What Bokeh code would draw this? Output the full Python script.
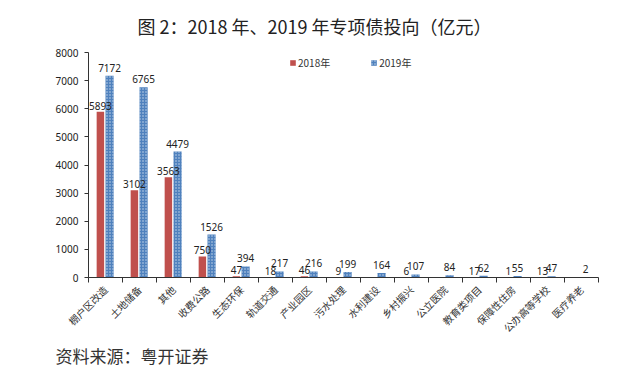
import math
from bokeh.plotting import figure
from bokeh.models import ColumnDataSource, FixedTicker, Title, Legend, LegendItem, Range1d
from bokeh.core.properties import value
from bokeh.embed import file_html
from bokeh.resources import INLINE

categories = ["棚户区改造", "土地储备", "其他", "收费公路", "生态环保", "轨道交通", "产业园区",
              "污水处理", "水利建设", "乡村振兴", "公立医院", "教育类项目", "保障性住房",
              "公办高等学校", "医疗养老"]
v2018 = [5893, 3102, 3563, 750, 47, 18, 46, 9, None, 6, None, 17, 1, 13, None]
v2019 = [7172, 6765, 4479, 1526, 394, 217, 216, 199, 164, 107, 84, 62, 55, 47, 2]
y_ticks = [0, 1000, 2000, 3000, 4000, 5000, 6000, 7000, 8000]

RED = "#C0504D"
BLUE = "#4F81BD"
CJK = "Noto Sans CJK SC"
NUM = "Noto Sans"

n = len(categories)
centers = [i + 0.5 for i in range(n)]
off18, off19 = -0.15, 0.12

x18 = [c + off18 for c, v in zip(centers, v2018) if v is not None]
y18 = [v for v in v2018 if v is not None]
x19 = [c + off19 for c in centers]
y19 = v2019

src18 = ColumnDataSource(dict(x=x18, top=y18, lab=[str(v) for v in y18]))
src19 = ColumnDataSource(dict(x=x19, top=y19, lab=[str(v) for v in y19]))

p = figure(frame_width=510, frame_height=225, output_backend="svg", toolbar_location=None,
           x_range=Range1d(0, n), y_range=Range1d(0, 8000),
           min_border_left=88, min_border_right=26, min_border_top=0, min_border_bottom=100,
           background_fill_color="white", border_fill_color="white", outline_line_color=None)

p.title.text = "图 2：2018 年、2019 年专项债投向（亿元）"
p.title.align = "left"
p.title.vertical_align = "top"
p.title.text_font = CJK
p.title.text_font_size = "18px"
p.title.text_font_style = "normal"
p.title.text_color = "#222222"
p.title.standoff = 24
p.title.offset = 49

r18 = p.vbar(x="x", top="top", width=0.22, source=src18, fill_color=RED, line_color=None)
r19 = p.vbar(x="x", top="top", width=0.24, source=src19, fill_color=BLUE, line_color=None,
             hatch_pattern="dot", hatch_color="white", hatch_alpha=0.7, hatch_scale=3, hatch_weight=1)

p.text(x="x", y="top", text="lab", source=src18, text_font=value(NUM), text_font_size="10px",
       text_color="#222222", text_align="center", text_baseline="bottom", y_offset=-2)
p.text(x="x", y="top", text="lab", source=src19, text_font=value(NUM), text_font_size="10px",
       text_color="#222222", text_align="center", text_baseline="bottom", y_offset=-4)

p.grid.visible = False

xa = p.xaxis[0]
xa.ticker = FixedTicker(ticks=centers, minor_ticks=list(range(n + 1)))
xa.major_label_overrides = {c: cat for c, cat in zip(centers, categories)}
xa.major_label_orientation = math.pi / 4
xa.major_tick_line_color = None
xa.minor_tick_in = 0
xa.minor_tick_out = 5
xa.minor_tick_line_color = "#333333"
xa.axis_line_color = "#333333"
xa.major_label_text_font = CJK
xa.major_label_text_font_size = "10px"
xa.major_label_text_color = "#333333"
xa.major_label_standoff = 4

ya = p.yaxis[0]
ya.ticker = FixedTicker(ticks=y_ticks)
ya.minor_tick_line_color = None
ya.major_tick_in = 0
ya.major_tick_out = 4
ya.major_tick_line_color = "#333333"
ya.axis_line_color = "#333333"
ya.major_label_text_font = NUM
ya.major_label_text_font_size = "10px"
ya.major_label_text_color = "#222222"
ya.major_label_standoff = 6

legend = Legend(items=[LegendItem(label="2018年", renderers=[r18]),
                       LegendItem(label="2019年", renderers=[r19])],
                orientation="horizontal", location=(201, 207),
                glyph_width=7, glyph_height=7, label_text_font=CJK,
                label_text_font_size="10px", label_text_color="#333333",
                spacing=40, padding=0, margin=0, border_line_color=None,
                background_fill_alpha=0, label_standoff=2)
p.add_layout(legend)

src_title = Title(text="资料来源：粤开证券", align="left", text_font=CJK, text_font_size="17px",
                  text_font_style="normal", text_color="#333333", offset=-33, standoff=-5)
p.add_layout(src_title, "below")

open("out.html", "w").write(file_html(p, INLINE))
